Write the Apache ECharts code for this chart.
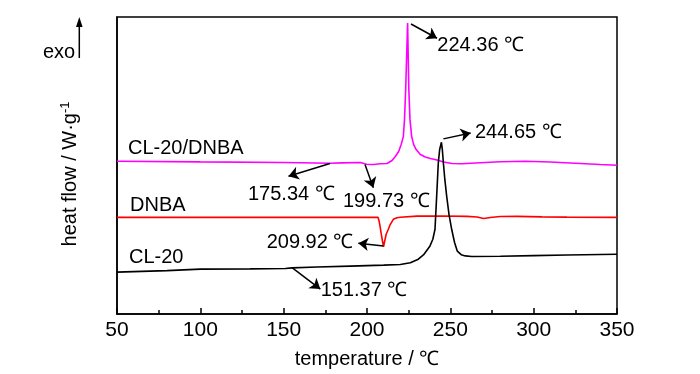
<!DOCTYPE html>
<html>
<head>
<meta charset="utf-8">
<script src="https://cdn.jsdelivr.net/npm/echarts@6/dist/echarts.min.js"></script>
<style>html,body{margin:0;padding:0;background:#fff}#c{width:700px;height:374px}</style>
</head>
<body>
<div id="c"></div>
<script>
// ---- data (temperature in °C, heat flow in arbitrary offset units) ----
const seriesNames = ['CL-20/DNBA', 'DNBA', 'CL-20'];
const tempMix = [50,100,150,178,185,196,199.7,204,208,212,215,217,219,220.5,221.8,222.5,223.2,224.36,225.1,225.8,226.8,228,229.5,232,235,238,242,246,251,257,265,280,295,310,325,340,350];
const flowMix = [153.3,152.6,152,151.3,151.6,152,150.3,150,150.7,151,154,158,163,170,178,195,225,292,225,195,178,170,165,160,157.5,156,154.5,152.5,151,150.8,151.5,152.8,153.2,152.5,151.3,150,149.3];
const tempDNBA = [50,150,200,206.6,207.3,207.8,208.6,209.3,209.92,210.6,211.5,212.8,214,215.8,218,220,230,245,260,266,270,274,280,290,305,320,350];
const flowDNBA = [97,97,97,97,93,88.3,80,73,67.5,73,80,85,90,95,96.6,97,98.2,98.3,98,97.3,95.8,96.8,97.8,98,97.5,97.2,97];
const tempCL20 = [50,80,100,130,151,155,170,190,210,220,226,230.8,234,237.8,239.5,240.8,241.8,242.8,243.6,244.65,245.2,245.8,246.7,247.8,249.2,250.8,252.5,254.2,256.5,259,262.8,280,300,320,350];
const flowCL20 = [42,43.5,45,45.3,45.7,46.3,47.1,48,49,49.7,51.5,55,59.5,68.3,75,85,118.3,152,165,172.3,165,152,135,118.3,100,85,72,63,59.5,58.3,57.7,58,58.6,59.2,60];
const xTicks = [50,100,150,200,250,300,350];
// annotation arrows: [fromT, fromFlow, toT, toFlow]
const arrows = [
  [226.4,291,242.0,276.7],
  [245.8,175.7,262.2,181.7],
  [177.8,151,152.9,138.3],
  [198.8,150,203.8,126.7],
  [209.9,68.3,194.8,71],
  [155.0,46.5,172.0,25]
];
// annotation texts: [T, flow, text]
const notes = [
  [242.2,269,'224.36 ℃'],
  [264.8,182,'244.65 ℃'],
  [128.6,120,'175.34 ℃'],
  [185.6,113.3,'199.73 ℃'],
  [139.8,71.7,'209.92 ℃'],
  [172.2,24,'151.37 ℃'],
  [56.6,166,'CL-20/DNBA'],
  [57.8,109,'DNBA'],
  [57.2,57,'CL-20']
];
const zip = (a,b) => a.map((v,i)=>[v,b[i]]);

const FONT = '"Liberation Sans",Arial,sans-serif';
const FS = 20;
const chart = echarts.init(document.getElementById('c'), null, {renderer:'canvas'});
const lineSeries = (name, t, f, color) => ({
  name, type:'line', data: zip(t,f), showSymbol:false, symbol:'none',
  lineStyle:{color, width:1.6}, itemStyle:{color}, z:3, animation:false
});
chart.setOption({
  animation:false,
  backgroundColor:'#fff',
  grid:{left:117,right:83,top:17,bottom:59,show:true,borderColor:'#000',borderWidth:1.5,backgroundColor:'transparent'},
  xAxis:{type:'value',min:50,max:350,interval:50,
    axisLine:{lineStyle:{color:'#000',width:1.5}},
    axisTick:{inside:true,length:6,lineStyle:{color:'#000',width:1.5}},
    minorTick:{show:true,splitNumber:2,length:4,lineStyle:{color:'#000',width:1.5}},
    splitLine:{show:false},
    axisLabel:{color:'#000',fontFamily:FONT,fontSize:21,margin:6,
      formatter:v=> xTicks.includes(v)? String(v):''},
    name:'temperature / ℃',nameLocation:'middle',nameGap:35,
    nameTextStyle:{color:'#000',fontFamily:FONT,fontSize:FS}
  },
  yAxis:{type:'value',min:0,max:298,axisLine:{show:true,lineStyle:{color:'#000',width:1.5}},
    axisTick:{show:false},axisLabel:{show:false},splitLine:{show:false}},
  graphic:[
    {type:'text',x:70,y:174,rotation:Math.PI/2,
      style:{text:'heat flow / W·g{sup|-1}',fill:'#000',font:FS+'px '+FONT,align:'center',verticalAlign:'middle',
        rich:{sup:{fontSize:13,fontFamily:FONT,fill:'#000',verticalAlign:'top',padding:[0,0,10,0]}}}},
    {type:'text',x:43,y:52,style:{text:'exo',fill:'#000',font:FS+'px '+FONT,align:'left',verticalAlign:'middle'}},
    {type:'line',shape:{x1:79.3,y1:58,x2:79.3,y2:22},style:{stroke:'#000',lineWidth:1.5}},
    {type:'polygon',shape:{points:[[79.3,17],[76,27],[82.6,27]]},style:{fill:'#000'}}
  ],
  series:[
    lineSeries(seriesNames[0], tempMix, flowMix, '#ff00ff'),
    lineSeries(seriesNames[1], tempDNBA, flowDNBA, '#ff0000'),
    lineSeries(seriesNames[2], tempCL20, flowCL20, '#000000'),
    {type:'scatter',name:'notes',data:notes,symbolSize:0,z:5,silent:true,
      itemStyle:{color:'#000',opacity:1},
      label:{show:true,position:'right',distance:0,formatter:p=>p.value[2],color:'#000',opacity:1,
        textBorderWidth:0,fontFamily:FONT,fontSize:FS},
      markLine:{silent:true,symbol:['none','arrow'],symbolSize:10,animation:false,
        lineStyle:{color:'#000',width:1.5,type:'solid'},itemStyle:{color:'#000'},label:{show:false},
        data: arrows.map(a=>[{coord:[a[0],a[1]]},{coord:[a[2],a[3]]}])}
    }
  ]
});
</script>
</body>
</html>
